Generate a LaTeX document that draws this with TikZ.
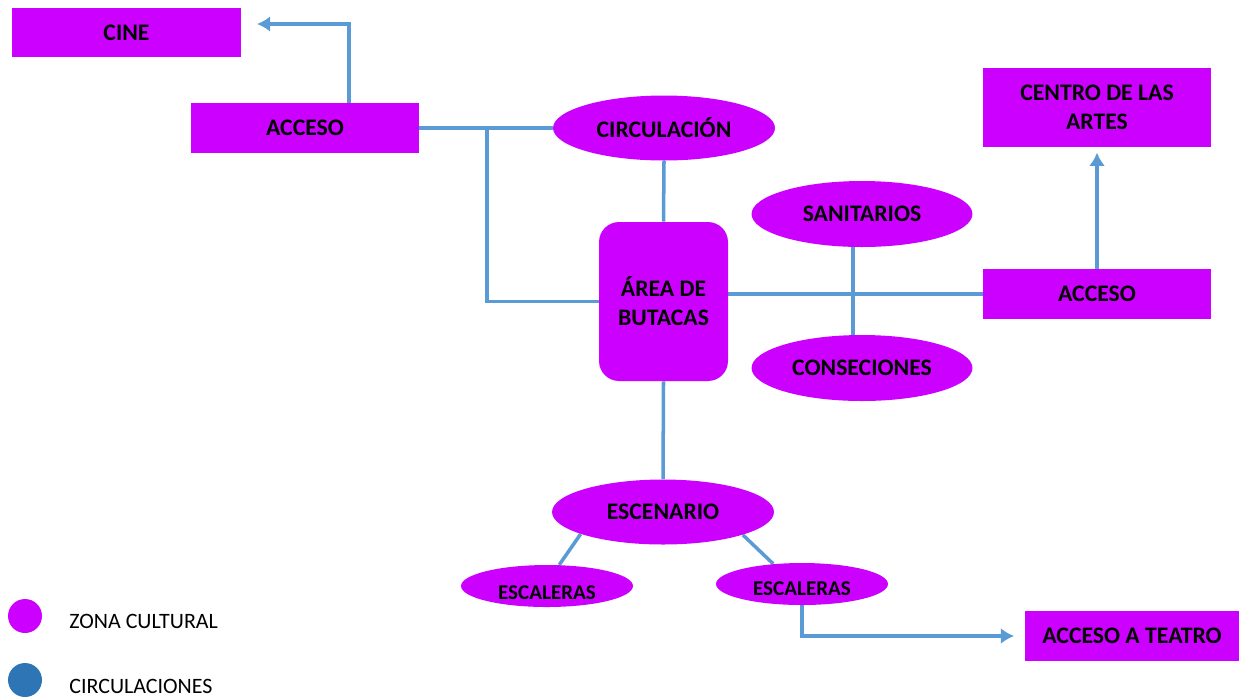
\documentclass[tikz,border=0pt]{standalone}
\usepackage{fontspec}
\setmainfont{Carlito}
\usepackage{tikz}
\usetikzlibrary{arrows.meta,shapes.geometric,positioning}
\pgfdeclarelayer{background}
\pgfsetlayers{background,main}

\definecolor{zona}{HTML}{CC00FF}
\definecolor{linea}{HTML}{5B9BD5}
\definecolor{circul}{HTML}{2E75B6}

\tikzset{
  caja/.style={rectangle, fill=zona, inner sep=0pt, align=center,
    font=\fontsize{13.5}{16.5}\selectfont\bfseries},
  elipse/.style={ellipse, fill=zona, inner sep=0pt, align=center,
    minimum width=4.44cm, minimum height=1.3cm,
    font=\fontsize{13.5}{16.5}\selectfont\bfseries},
  chica/.style={ellipse, fill=zona, inner sep=0pt, text depth=0pt,
    minimum width=3.44cm, minimum height=0.84cm,
    font=\fontsize{12}{14}\selectfont\bfseries},
  liga/.style={linea, line width=2pt},
  leyenda/.style={anchor=west, inner sep=0pt, font=\fontsize{12.5}{15}\selectfont}
}

\begin{document}
\begin{tikzpicture}[x=0.02cm, y=-0.02cm, >={Latex[length=7.5pt,width=9pt]}]
\useasboundingbox (0,0) rectangle (1239,698);

\node[caja, minimum width=4.58cm, minimum height=0.98cm] (cine) at (126.5,32.5) {CINE};
\node[caja, minimum width=4.56cm, minimum height=1cm] (accA) at (305,128) {ACCESO};
\node[elipse] (circ) at (664,128) {CIRCULACIÓN};
\node[caja, rounded corners=0.4cm, minimum width=2.58cm, minimum height=3.18cm] (area) at (663.5,301.5) {ÁREA DE\\BUTACAS};
\node[elipse, minimum width=4.42cm, minimum height=1.32cm] (sanit) at (862,214) {SANITARIOS};
\node[elipse, minimum width=4.42cm, minimum height=1.32cm] (conse) at (862,368) {CONSECIONES};
\node[caja, minimum width=4.56cm, minimum height=1cm] (accB) at (1097,294) {ACCESO};
\node[caja, minimum width=4.56cm, minimum height=1.58cm] (centro) at (1097,107.5) {CENTRO DE LAS\\ARTES};
\node[elipse] (escen) at (663,512) {ESCENARIO};
\node[chica, text height=15.8pt] (escI) at (547,586) {ESCALERAS};
\node[chica, text height=13.4pt] (escD) at (802,584) {ESCALERAS};
\node[caja, minimum width=4.28cm, minimum height=1cm] (teatro) at (1132,636) {ACCESO A TEATRO};

% leyenda
\node[circle, fill=zona, inner sep=0pt, minimum size=0.68cm] (pz) at (25,616) {};
\node[circle, fill=circul, inner sep=0pt, minimum size=0.68cm] (pc) at (25,680) {};
\node[leyenda] (tz) at (69,621) {ZONA CULTURAL};
\node[leyenda] (tc) at (69,686) {CIRCULACIONES};

\coordinate (k1) at (349,24);
\coordinate (punta) at (257,24);
\coordinate (j1) at (487,127);
\coordinate (v1) at (853,0);

\begin{pgfonlayer}{background}
\draw[->, liga] (accA.north -| k1) -- (k1) -- (punta);
\draw[liga] (accA.east) -- (circ.west);
\draw[liga] (j1) |- (area.west);
\draw[liga] (circ.south) -- (area.north);
\draw[liga] (area.east |- accB.west) -- (accB.west);
\draw[liga] (sanit.south -| v1) -- (conse.north -| v1);
\draw[->, liga, shorten >=3pt] (accB.north) -- (centro.south);
\draw[liga] (area.south) -- (escen.north);
\draw[liga] (escen.195) -- (escI.60);
\draw[liga] (escen.344) -- (escD.145);
\draw[->, liga, shorten >=6pt] (escD.south) |- (teatro.west);
\end{pgfonlayer}
\end{tikzpicture}
\end{document}
